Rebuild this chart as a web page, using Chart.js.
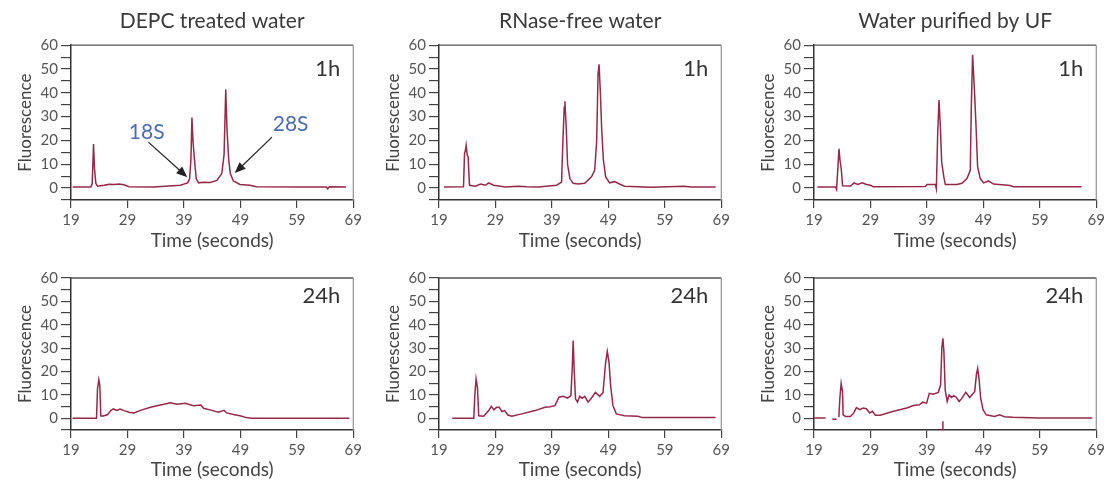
<!DOCTYPE html>
<html>
<head>
<meta charset="utf-8">
<script src="https://cdn.jsdelivr.net/npm/chart.js@4.4.1/dist/chart.umd.min.js"></script>
<style>
  body { margin: 0; background: #fff; width: 1111px; height: 486px; overflow: hidden; position: relative; }
  canvas { position: absolute; }
</style>
</head>
<body>
<canvas id="c1" width="365" height="260" style="left:0;top:0"></canvas>
<canvas id="c2" width="365" height="260" style="left:368px;top:0"></canvas>
<canvas id="c3" width="365" height="260" style="left:743px;top:0"></canvas>
<canvas id="c4" width="365" height="236" style="left:0;top:250px"></canvas>
<canvas id="c5" width="365" height="236" style="left:368px;top:250px"></canvas>
<canvas id="c6" width="365" height="236" style="left:743px;top:250px"></canvas>
<script>
// axes
const xTicks = [19, 29, 39, 49, 59, 69];
const yTicks = [-5, 0, 5, 10, 15, 20, 25, 30, 35, 40, 45, 50, 55, 60];
const yLabels = [0, 10, 20, 30, 40, 50, 60];
const titles = ['DEPC treated water', 'RNase-free water', 'Water purified by UF'];

// DEPC treated water, 1h
const depc1hTime = [19.29, 22.52, 22.76, 22.99, 23.17, 23.40, 23.69, 24.87, 25.75, 26.63, 27.51, 28.39, 29.27, 33.67, 38.37, 39.66, 40.01, 40.24, 40.42, 40.60, 40.83, 41.18, 41.59, 42.47, 43.65, 44.82, 45.70, 46.11, 46.41, 46.64, 46.93, 47.23, 47.76, 48.93, 50.69, 51.86, 60.08, 64.19, 64.48, 64.77, 67.71];
const depc1hFluor = [0.5, 0.5, 2, 18.5, 8, 2, 0.8, 1.2, 1.6, 1.5, 1.7, 1.4, 0.6, 0.5, 1.2, 2.2, 4, 12, 29.6, 20, 13, 4, 2.2, 2.5, 2.4, 3.2, 6, 14, 41.4, 24, 12, 6, 3, 1.5, 1.2, 0.6, 0.5, 0.5, -0.3, 0.6, 0.5];

// RNase-free water, 1h
const rnase1hTime = [19.88, 23.34, 23.52, 23.69, 23.81, 23.99, 24.16, 24.40, 25.46, 26.34, 27.22, 27.80, 28.68, 30.74, 33.08, 34.55, 36.61, 39.83, 40.71, 40.95, 41.18, 41.30, 41.54, 41.77, 42.18, 42.77, 43.65, 44.82, 46.00, 46.58, 46.93, 47.17, 47.35, 47.58, 47.81, 48.11, 48.52, 49.22, 50.10, 50.98, 51.86, 56.56, 59.49, 62.43, 63.60, 68.00];
const rnase1hFluor = [0.5, 0.6, 14.5, 16, 18, 14, 13, 1.2, 0.8, 1.7, 1.2, 2.2, 1.2, 0.5, 0.8, 0.6, 0.5, 1.2, 2.5, 20, 34, 36.5, 25, 10, 4, 2, 1.7, 2, 4.7, 7.5, 20, 48, 52, 40, 25, 12, 4.7, 2.2, 2.7, 1.7, 0.8, 0.4, 0.6, 0.8, 0.5, 0.5];

// Water purified by UF, 1h
const uf1hTime = [19.59, 22.83, 23.00, 23.24, 23.42, 23.59, 23.83, 24.06, 25.48, 26.07, 26.77, 27.54, 28.30, 29.01, 29.48, 38.73, 39.02, 40.50, 40.67, 40.91, 41.14, 41.38, 41.61, 41.97, 42.26, 44.32, 45.21, 46.09, 46.68, 46.86, 47.09, 47.39, 47.68, 47.98, 48.45, 49.04, 49.92, 50.80, 53.75, 54.34, 66.41];
const uf1hFluor = [0.5, 0.5, -0.5, 9, 16.5, 12, 8, 1, 0.9, 2.2, 1.5, 2.2, 1.5, 1.2, 0.6, 0.7, 1.5, 1.6, -0.2, 23, 37, 25.7, 11, 5, 1.5, 1.5, 2, 4, 7.5, 34, 56, 42.5, 27, 9, 4, 2.2, 3, 1.7, 1.1, 0.6, 0.6];

// DEPC treated water, 24h
const depc24hTime = [19.29, 23.52, 23.69, 23.93, 24.11, 24.28, 24.69, 25.46, 26.04, 26.51, 27.10, 27.69, 28.39, 29.27, 30.15, 31.32, 33.08, 34.85, 36.61, 37.78, 39.25, 40.71, 42.00, 42.47, 43.65, 45.12, 46.11, 46.58, 47.76, 48.93, 50.10, 50.98, 68.30];
const depc24hFluor = [0, 0, 12.5, 16.5, 14, 1, 1, 1.5, 3.3, 4, 3.4, 4, 3.3, 2.6, 2.3, 3.4, 4.7, 5.7, 6.6, 6, 6.4, 5.4, 5.7, 4.3, 3.6, 2.6, 3.4, 2.3, 1.6, 1.1, 0.3, 0, 0];

// RNase-free water, 24h
const rnase24hTime = [21.35, 25.16, 25.34, 25.57, 25.81, 26.04, 26.92, 27.80, 28.27, 28.74, 29.21, 29.68, 30.15, 30.62, 31.21, 31.91, 33.67, 36.02, 37.78, 38.66, 39.54, 40.24, 41.01, 41.77, 42.36, 42.59, 42.77, 42.94, 43.18, 43.53, 43.94, 44.35, 44.82, 45.41, 46.11, 46.70, 47.46, 48.05, 48.52, 48.81, 49.11, 49.40, 49.81, 50.40, 51.86, 54.21, 55.09, 68.00];
const rnase24hFluor = [0, 0, 9.7, 16.9, 13.3, 1.1, 0.9, 3.3, 5.1, 3.6, 4.7, 4.7, 2.9, 3.3, 1.4, 0.9, 1.9, 3.3, 4.7, 4.9, 5.4, 9, 9.4, 8.6, 9.7, 21, 33.3, 21, 8.3, 6.9, 9.4, 8.6, 9.4, 6.9, 9, 11.1, 9.4, 11, 24, 28.6, 24, 14, 5.4, 1.9, 1.1, 0.9, 0.3, 0.3];

// Water purified by UF, 24h (null = gap in trace)
const uf24hTime = [19.00, 21.05, 21.6, 22.23, 23.00, 23.2, 23.40, 23.58, 23.81, 24.05, 24.16, 24.58, 25.46, 26.04, 26.51, 27.10, 27.69, 28.27, 28.86, 29.33, 29.86, 30.74, 33.08, 35.43, 36.61, 37.66, 38.25, 38.95, 39.42, 40.13, 41.01, 41.42, 41.65, 41.83, 42.00, 42.24, 42.59, 42.94, 43.35, 43.77, 44.23, 44.70, 45.12, 45.88, 46.58, 47.46, 47.76, 47.99, 48.23, 48.52, 48.93, 49.52, 50.98, 51.86, 52.74, 54.21, 58.91, 68.30];
const uf24hFluor = [0.1, 0.1, null, -0.4, -0.4, null, 0.5, 8.6, 15, 11.4, 1.5, 0.8, 0.8, 2.3, 4.6, 3.7, 4.4, 4.1, 2.3, 3, 1.3, 1.3, 3, 4.4, 5.5, 5.8, 6.9, 6.5, 10.7, 10.3, 11.1, 14.2, 30.4, 34.2, 29, 12.1, 7.2, 10, 8.9, 9.7, 8.9, 7.2, 8.3, 11.1, 8.9, 11.4, 18.7, 21.3, 17, 8.6, 3.7, 1.5, 0.8, 1.5, 0.7, 0.4, 0.1, 0.1];
const uf24hMarkTime = [41.83, 41.83];
const uf24hMarkFluor = [-1.3, -5];

const pts = (t, f) => t.map((x, i) => ({ x: x, y: f[i] }));

const FONT = 'Lato, "Open Sans", sans-serif';
const LINE = '#962848';

// top + right frame, time tag, arrows
const framePlugin = {
  id: 'frame',
  afterDraw(chart, args, opts) {
    const { ctx, chartArea: a, scales } = chart;
    ctx.save();
    ctx.lineWidth = 1.3;
    ctx.strokeStyle = '#555';
    ctx.beginPath(); ctx.moveTo(a.left, a.top); ctx.lineTo(a.right, a.top); ctx.stroke();
    ctx.strokeStyle = '#999';
    ctx.beginPath(); ctx.moveTo(a.right, a.top); ctx.lineTo(a.right, a.bottom); ctx.stroke();

    ctx.fillStyle = '#333';
    ctx.font = '22px ' + FONT;
    ctx.textAlign = 'right';
    ctx.textBaseline = 'middle';
    ctx.fillText(opts.tag, a.right - 13, scales.y.getPixelForValue(opts.tagY));

    (opts.arrows || []).forEach(ar => {
      const tx = scales.x.getPixelForValue(ar.text[0]), ty = scales.y.getPixelForValue(ar.text[1]);
      const x0 = scales.x.getPixelForValue(ar.from[0]), y0 = scales.y.getPixelForValue(ar.from[1]);
      const x1 = scales.x.getPixelForValue(ar.to[0]), y1 = scales.y.getPixelForValue(ar.to[1]);
      ctx.fillStyle = '#4d6db0';
      ctx.font = '21px ' + FONT;
      ctx.textAlign = 'center';
      ctx.fillText(ar.label, tx, ty);
      ctx.strokeStyle = '#222';
      ctx.fillStyle = '#222';
      ctx.lineWidth = 1.2;
      const ang = Math.atan2(y1 - y0, x1 - x0);
      ctx.beginPath(); ctx.moveTo(x0, y0); ctx.lineTo(x1 - 8 * Math.cos(ang), y1 - 8 * Math.sin(ang)); ctx.stroke();
      ctx.beginPath();
      ctx.moveTo(x1, y1);
      ctx.lineTo(x1 - 11 * Math.cos(ang) + 4.5 * Math.sin(ang), y1 - 11 * Math.sin(ang) - 4.5 * Math.cos(ang));
      ctx.lineTo(x1 - 11 * Math.cos(ang) - 4.5 * Math.sin(ang), y1 - 11 * Math.sin(ang) + 4.5 * Math.cos(ang));
      ctx.closePath(); ctx.fill();
    });
    ctx.restore();
  }
};
Chart.register(framePlugin);

function makeChart(id, title, datasets, tag, tagY, topRow, arrows) {
  new Chart(document.getElementById(id), {
    type: 'line',
    data: {
      datasets: datasets.map(d => ({
        data: d, borderColor: LINE, borderWidth: 1.5, pointRadius: 0, tension: 0, spanGaps: false
      }))
    },
    options: {
      responsive: false,
      animation: false,
      layout: { padding: { top: topRow ? 0 : 28, right: 10, bottom: 0, left: 0 } },
      plugins: {
        legend: { display: false },
        tooltip: { enabled: false },
        title: {
          display: topRow, text: title, fullSize: false, color: '#3a3a3a',
          font: { family: FONT, size: 21, weight: 'normal', lineHeight: 1.2 },
          padding: { top: 9, bottom: 11 }
        },
        frame: { tag: tag, tagY: tagY, arrows: arrows }
      },
      scales: {
        x: {
          type: 'linear', min: 19, max: 69,
          afterBuildTicks: s => { s.ticks = xTicks.map(v => ({ value: v })); },
          afterFit: s => { s.height = topRow ? 60 : 56; },
          ticks: { color: '#555', font: { family: FONT, size: 15 }, padding: 3, maxRotation: 0, autoSkip: false },
          grid: { drawOnChartArea: false, tickLength: 8, color: '#444', lineWidth: 1.2 },
          border: { color: '#333', width: 1.5 },
          title: {
            display: true, text: 'Time (seconds)', color: '#444',
            font: { family: FONT, size: 19 }, padding: { top: 0, bottom: topRow ? 8 : 5 }
          }
        },
        y: {
          min: -5, max: 60,
          afterBuildTicks: s => { s.ticks = yTicks.map(v => ({ value: v })); },
          afterFit: s => { s.width = 71; },
          ticks: {
            color: '#555', font: { family: FONT, size: 15 }, padding: 3, autoSkip: false,
            callback: v => yLabels.includes(v) ? v : ''
          },
          grid: { drawOnChartArea: false, tickLength: 10, color: '#444', lineWidth: 1.2 },
          border: { color: '#333', width: 1.5 },
          title: {
            display: true, text: 'Fluorescence', color: '#444',
            font: { family: FONT, size: 17 }, padding: { top: 15, bottom: 0 }
          }
        }
      }
    }
  });
}

const annot = [
  { label: '18S', text: [32.4, 23.5], from: [32.7, 19.3], to: [39.6, 4.6] },
  { label: '28S', text: [57.9, 26.9], from: [54.6, 21.4], to: [48.0, 6.3] }
];

makeChart('c1', titles[0], [pts(depc1hTime, depc1hFluor)], '1h', 50, true, annot);
makeChart('c2', titles[1], [pts(rnase1hTime, rnase1hFluor)], '1h', 50, true);
makeChart('c3', titles[2], [pts(uf1hTime, uf1hFluor)], '1h', 50, true);
makeChart('c4', '', [pts(depc24hTime, depc24hFluor)], '24h', 52.5, false);
makeChart('c5', '', [pts(rnase24hTime, rnase24hFluor)], '24h', 52.5, false);
makeChart('c6', '', [pts(uf24hTime, uf24hFluor), pts(uf24hMarkTime, uf24hMarkFluor)], '24h', 52.5, false);
</script>
</body>
</html>
